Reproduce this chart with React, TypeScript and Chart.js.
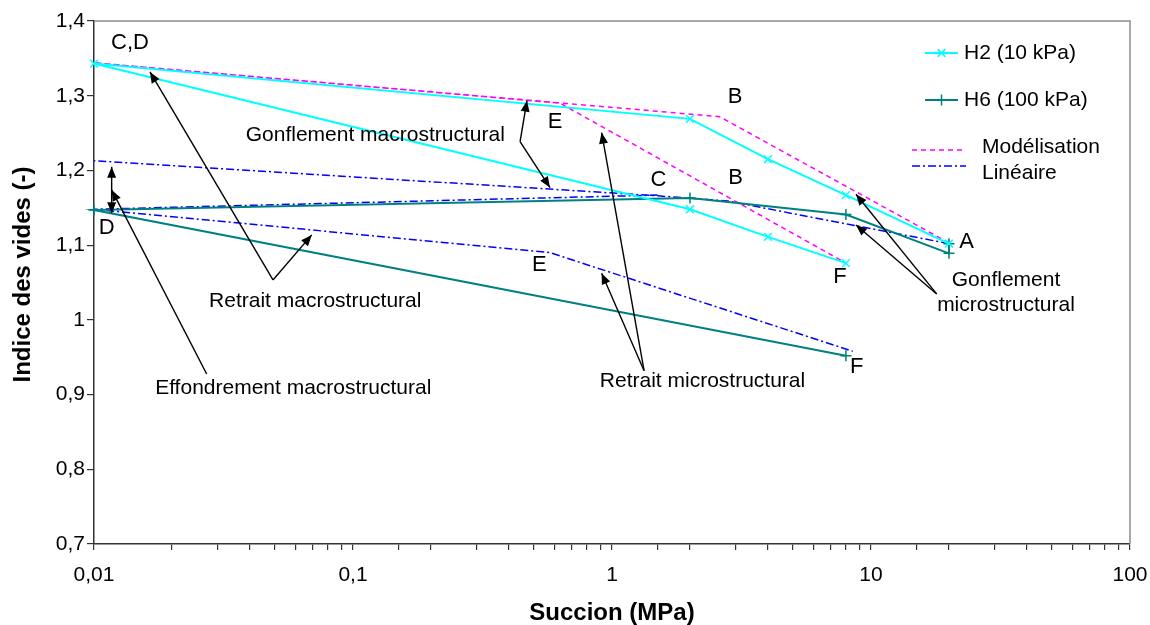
import React, { useEffect, useRef } from "react";
import { Chart, registerables } from "chart.js";

Chart.register(...registerables);

const FONT = "'Liberation Sans', Arial, Helvetica, sans-serif";

// ---- Series data (suction in MPa, void ratio) ----
const h2Suction = [20, 8, 4, 2, 0.01, 2, 4, 8];
const h2Void = [1.102, 1.167, 1.215, 1.269, 1.343, 1.148, 1.111, 1.076];

const h6Suction = [20, 20, 8, 2, 0.01, 8];
const h6Void = [1.102, 1.089, 1.141, 1.163, 1.147, 0.952];

const modelSuction = [20, 2.6, 0.01, 0.63, 8];
const modelVoid = [1.103, 1.272, 1.344, 1.29, 1.076];

const linWetSuction = [20, 2.8, 1.5, 0.01];
const linWetVoid = [1.102, 1.159, 1.166, 1.213];

const linDrySuction = [1.5, 0.01, 0.576, 8.5];
const linDryVoid = [1.167, 1.148, 1.09, 0.958];

// ---- Axis ----
const xMin = 0.01;
const xMax = 100;
const yMin = 0.7;
const yMax = 1.4;
const yStep = 0.1;
const xTitle = "Succion (MPa)";
const yTitle = "Indice des vides (-)";

// ---- Legend ----
const legendLabels = ["H2 (10 kPa)", "H6 (100 kPa)", "Modélisation", "Linéaire"];

// ---- Point letters (data coordinates) ----
const letterTexts = ["C,D", "B", "E", "C", "B", "D", "E", "F", "F", "A"];
const letterX = [0.01377, 2.985, 0.6026, 1.51, 3.0, 0.01119, 0.524, 7.59, 8.81, 23.4];
const letterY = [1.37, 1.2988, 1.2653, 1.1873, 1.1896, 1.1226, 1.0735, 1.0578, 0.9374, 1.1047];

// ---- Annotation texts (data coordinates, centre) ----
const noteTexts = [
  "Gonflement macrostructural",
  "Retrait macrostructural",
  "Effondrement macrostructural",
  "Retrait microstructural",
  "Gonflement",
  "microstructural",
];
const noteX = [0.1219, 0.0715, 0.0588, 2.236, 33.2, 33.2];
const noteY = [1.2475, 1.0244, 0.9084, 0.9173, 1.0534, 1.02];

// ---- Arrows (data coordinates: tail -> head) ----
const arrowFromX = [0.0491, 0.0491, 0.4416, 0.4416, 0.02723, 1.33, 1.33, 17.93, 17.93, 0.0117];
const arrowFromY = [1.0534, 1.0534, 1.2386, 1.2386, 0.9276, 0.932, 0.932, 1.0347, 1.0347, 1.1427];
const arrowToX = [0.01645, 0.0693, 0.4696, 0.5763, 0.0117, 0.912, 0.912, 8.75, 8.75, 0.0117];
const arrowToY = [1.3319, 1.1137, 1.2934, 1.177, 1.1739, 1.2506, 1.0624, 1.1681, 1.127, 1.205];
const arrowDouble = [false, false, false, false, false, false, false, false, false, true];

const toPoints = (xs: number[], ys: number[]) => xs.map((x, i) => ({ x, y: ys[i] }));

const fmt = (v: number) => String(v).replace(".", ",");

function drawArrowHead(ctx: CanvasRenderingContext2D, fx: number, fy: number, tx: number, ty: number) {
  const ang = Math.atan2(ty - fy, tx - fx);
  const len = 11;
  const half = 4.5;
  const bx = tx - len * Math.cos(ang);
  const by = ty - len * Math.sin(ang);
  ctx.beginPath();
  ctx.moveTo(tx, ty);
  ctx.lineTo(bx + half * Math.sin(ang), by - half * Math.cos(ang));
  ctx.lineTo(bx - half * Math.sin(ang), by + half * Math.cos(ang));
  ctx.closePath();
  ctx.fill();
}

const overlayPlugin = {
  id: "overlay",
  afterDatasetsDraw(chart: any) {
    const ctx: CanvasRenderingContext2D = chart.ctx;
    const { left, right, top, bottom } = chart.chartArea;
    const xs = chart.scales.x;
    const ys = chart.scales.y;
    ctx.save();

    // plot frame (top and right)
    ctx.strokeStyle = "#8c8c8c";
    ctx.lineWidth = 1.5;
    ctx.beginPath();
    ctx.moveTo(left, top);
    ctx.lineTo(right, top);
    ctx.lineTo(right, bottom);
    ctx.stroke();

    // arrows
    ctx.strokeStyle = "#000";
    ctx.fillStyle = "#000";
    ctx.lineWidth = 1.4;
    for (let i = 0; i < arrowFromX.length; i++) {
      const fx = xs.getPixelForValue(arrowFromX[i]);
      const fy = ys.getPixelForValue(arrowFromY[i]);
      const tx = xs.getPixelForValue(arrowToX[i]);
      const ty = ys.getPixelForValue(arrowToY[i]);
      ctx.beginPath();
      ctx.moveTo(fx, fy);
      ctx.lineTo(tx, ty);
      ctx.stroke();
      drawArrowHead(ctx, fx, fy, tx, ty);
      if (arrowDouble[i]) drawArrowHead(ctx, tx, ty, fx, fy);
    }

    // letters and notes
    ctx.fillStyle = "#000";
    ctx.textBaseline = "middle";
    ctx.textAlign = "center";
    ctx.font = `22px ${FONT}`;
    for (let i = 0; i < letterTexts.length; i++) {
      ctx.fillText(letterTexts[i], xs.getPixelForValue(letterX[i]), ys.getPixelForValue(letterY[i]));
    }
    ctx.font = `21px ${FONT}`;
    for (let i = 0; i < noteTexts.length; i++) {
      ctx.fillText(noteTexts[i], xs.getPixelForValue(noteX[i]), ys.getPixelForValue(noteY[i]));
    }

    // legend
    const ds = chart.data.datasets;
    const drawLegendLine = (x1: number, x2: number, y: number, d: any) => {
      ctx.save();
      ctx.strokeStyle = d.borderColor;
      ctx.lineWidth = d.borderWidth;
      ctx.setLineDash(d.borderDash || []);
      ctx.beginPath();
      ctx.moveTo(x1, y);
      ctx.lineTo(x2, y);
      ctx.stroke();
      ctx.restore();
    };
    ctx.textAlign = "left";
    ctx.font = `21px ${FONT}`;
    // H2
    let y = top + 32;
    drawLegendLine(right - 205, right - 172, y, ds[0]);
    {
      const cx = right - 188.5;
      const r = 5.5;
      ctx.save();
      ctx.strokeStyle = ds[0].borderColor;
      ctx.lineWidth = 1.5;
      ctx.beginPath();
      const d = r * Math.SQRT1_2;
      ctx.moveTo(cx - d, y - d);
      ctx.lineTo(cx + d, y + d);
      ctx.moveTo(cx - d, y + d);
      ctx.lineTo(cx + d, y - d);
      ctx.stroke();
      ctx.restore();
    }
    ctx.fillStyle = "#000";
    ctx.fillText(legendLabels[0], right - 166, y);
    // H6
    y = top + 79;
    drawLegendLine(right - 205, right - 172, y, ds[1]);
    {
      const cx = right - 188.5;
      const r = 5.5;
      ctx.save();
      ctx.strokeStyle = ds[1].borderColor;
      ctx.lineWidth = 1.5;
      ctx.beginPath();
      ctx.moveTo(cx, y - r);
      ctx.lineTo(cx, y + r);
      ctx.stroke();
      ctx.restore();
    }
    ctx.fillText(legendLabels[1], right - 166, y);
    // Modélisation
    drawLegendLine(right - 218, right - 164, top + 129, ds[2]);
    ctx.fillText(legendLabels[2], right - 148, top + 126);
    // Linéaire
    drawLegendLine(right - 218, right - 164, top + 145, ds[3]);
    ctx.fillText(legendLabels[3], right - 148, top + 152);

    // axis titles
    ctx.font = `bold 24px ${FONT}`;
    ctx.textAlign = "center";
    ctx.fillText(xTitle, (left + right) / 2, bottom + 69);
    ctx.save();
    ctx.translate(23, (top + bottom) / 2 - 8);
    ctx.rotate(-Math.PI / 2);
    ctx.fillText(yTitle, 0, 0);
    ctx.restore();

    ctx.restore();
  },
};

export default function App() {
  const canvasRef = useRef<HTMLCanvasElement | null>(null);

  useEffect(() => {
    const canvas = canvasRef.current;
    if (!canvas) return;
    const blue = "#0000ff";
    const chart = new Chart(canvas, {
      type: "line",
      data: {
        datasets: [
          {
            label: legendLabels[0],
            data: toPoints(h2Suction, h2Void),
            borderColor: "#00ffff",
            backgroundColor: "#00ffff",
            borderWidth: 2,
            pointStyle: "crossRot",
            pointRadius: 5.5,
            pointBorderWidth: 1.5,
            pointBorderColor: "#00ffff",
            tension: 0,
            clip: 10,
            order: 1,
          },
          {
            label: legendLabels[1],
            data: toPoints(h6Suction, h6Void),
            borderColor: "#008080",
            backgroundColor: "#008080",
            borderWidth: 2,
            pointStyle: "cross",
            pointRadius: 5.5,
            pointBorderWidth: 1.5,
            pointBorderColor: "#008080",
            tension: 0,
            clip: 10,
            order: 2,
          },
          {
            label: legendLabels[2],
            data: toPoints(modelSuction, modelVoid),
            borderColor: "#ff00ff",
            borderWidth: 1.5,
            borderDash: [5, 4],
            pointRadius: 0,
            tension: 0,
            clip: 10,
            order: 3,
          },
          {
            label: legendLabels[3],
            data: toPoints(linWetSuction, linWetVoid),
            borderColor: blue,
            borderWidth: 1.5,
            borderDash: [8, 3, 2, 3],
            pointRadius: 0,
            tension: 0,
            clip: 10,
            order: 4,
          },
          {
            label: legendLabels[3] + " ",
            data: toPoints(linDrySuction, linDryVoid),
            borderColor: blue,
            borderWidth: 1.5,
            borderDash: [8, 3, 2, 3],
            pointRadius: 0,
            tension: 0,
            clip: 10,
            order: 5,
          },
        ],
      },
      options: {
        animation: false,
        responsive: false,
        devicePixelRatio: 1,
        layout: { padding: { top: 21, right: 20, bottom: 0, left: 0 } },
        plugins: {
          legend: { display: false },
          tooltip: { enabled: false },
        },
        scales: {
          x: {
            type: "logarithmic",
            min: xMin,
            max: xMax,
            afterFit: (s: any) => {
              s.height = 81;
              s.paddingLeft = 0;
              s.paddingRight = 0;
            },
            border: { display: true, color: "#333", width: 1.5 },
            grid: {
              display: true,
              drawOnChartArea: false,
              drawTicks: true,
              tickLength: 6,
              color: "#333",
              lineWidth: 1.2,
            },
            ticks: {
              autoSkip: false,
              maxRotation: 0,
              padding: 13,
              color: "#000",
              font: { family: FONT, size: 21 },
              callback: (v: any) => {
                const val = Number(v);
                const l = Math.log10(val);
                if (Math.abs(l - Math.round(l)) < 1e-6) return fmt(Number(val.toPrecision(3)));
                return "";
              },
            },
          },
          y: {
            type: "linear",
            min: yMin,
            max: yMax,
            afterFit: (s: any) => {
              s.width = 94;
              s.paddingTop = 0;
              s.paddingBottom = 0;
            },
            border: { display: true, color: "#333", width: 1.5 },
            grid: {
              display: true,
              drawOnChartArea: false,
              drawTicks: true,
              tickLength: 7,
              color: "#333",
              lineWidth: 1.2,
            },
            ticks: {
              stepSize: yStep,
              padding: 2,
              color: "#000",
              font: { family: FONT, size: 21 },
              callback: (v: any) => fmt(Math.round(Number(v) * 10) / 10),
            },
          },
        },
      },
      plugins: [overlayPlugin],
    } as any);
    return () => chart.destroy();
  }, []);

  return (
    <div style={{ position: "absolute", left: 0, top: 0, width: 1150, height: 625, background: "#fff" }}>
      <canvas ref={canvasRef} width={1150} height={625} style={{ display: "block" }} />
    </div>
  );
}
